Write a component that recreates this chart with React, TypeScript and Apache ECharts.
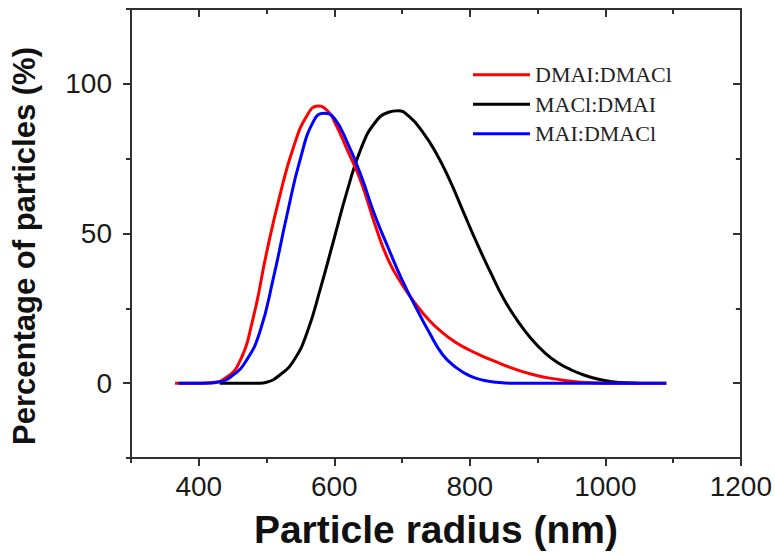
import React, { useEffect, useRef } from "react";
import * as echarts from "echarts";

const redName = "DMAI:DMACl";
const blackName = "MACl:DMAI";
const blueName = "MAI:DMACl";

const redData: [number, number][] = [
  [365, 0], [400, 0], [420, 0.2], [440, 1.8], [460, 7], [480, 21.5], [500, 43.5],
  [520, 63], [540, 79], [560, 89.5], [576, 92.6], [590, 91], [600, 87.5],
  [620, 77.5], [640, 67], [660, 53], [680, 41], [700, 33], [720, 26.5],
  [740, 21], [760, 16.8], [780, 13.5], [800, 11], [820, 8.9], [840, 7],
  [860, 5.2], [880, 3.7], [900, 2.5], [920, 1.6], [940, 0.9], [960, 0.4],
  [980, 0.1], [1000, 0], [1090, 0],
];

const blackData: [number, number][] = [
  [431, 0], [490, 0], [500, 0.3], [520, 2.8], [540, 7.5], [560, 17], [580, 32],
  [600, 48.5], [620, 65], [640, 78.7], [660, 87], [680, 90.5], [694, 91],
  [710, 89.2], [730, 84], [750, 77], [770, 68], [790, 57.5], [810, 47],
  [830, 37.3], [850, 28.2], [870, 21], [890, 15], [910, 10.3], [930, 6.8],
  [950, 4.4], [970, 2.6], [990, 1.3], [1010, 0.5], [1030, 0.1], [1050, 0],
];

const blueData: [number, number][] = [
  [370, 0], [410, 0], [430, 0.4], [450, 2.6], [470, 7.5], [490, 17], [510, 35],
  [530, 56], [550, 75], [570, 87.8], [585, 90.2], [600, 88.5], [620, 80],
  [640, 69], [660, 56], [680, 45], [700, 34.5], [720, 25.5], [740, 17],
  [760, 9.5], [780, 5.2], [800, 2.4], [820, 1], [840, 0.3], [860, 0], [1090, 0],
];

const xMajorLabels = [400, 600, 800, 1000, 1200];
const yMajorLabels = [0, 50, 100];

const axisColor = "#303030";
const sansFont = "'Liberation Sans', Arial, sans-serif";

export default function App() {
  const ref = useRef<HTMLDivElement>(null);
  useEffect(() => {
    if (!ref.current) return;
    const chart = echarts.init(ref.current, undefined, { renderer: "svg" });

    const W = 775;
    const H = 556;
    const L = 131;
    const R = 34;
    const T = 9;
    const B = 98;
    const xMin = 300;
    const xMax = 1200;
    const yMin = -25;
    const yMax = 125;
    const pxPerX = (W - L - R) / (xMax - xMin);
    const pxPerY = (H - T - B) / (yMax - yMin);

    const lineStyle = { color: axisColor, width: 2 };
    const hidden = { show: false };

    const option: any = {
      animation: false,
      backgroundColor: "#ffffff",
      grid: [
        { left: L, right: R, top: T, bottom: B },
        { left: L + (400 - xMin) * pxPerX, right: R, top: T, bottom: B },
        { left: L, right: R, top: T + (yMax - 100) * pxPerY, bottom: B + (0 - yMin) * pxPerY },
      ],
      legend: {
        orient: "vertical",
        left: 468,
        top: 55,
        itemWidth: 57,
        itemHeight: 3,
        itemGap: 0,
        icon: "path://M0,0 L57,0 L57,3 L0,3 Z",
        textStyle: {
          fontFamily: "'Liberation Serif', 'Times New Roman', serif",
          fontSize: 22,
          color: "#222",
          lineHeight: 29.5,
        },
        data: [redName, blackName, blueName],
      },
      xAxis: [
        {
          type: "value",
          gridIndex: 0,
          position: "bottom",
          min: xMin,
          max: xMax,
          interval: 100,
          splitLine: hidden,
          axisLine: { show: true, onZero: false, lineStyle },
          axisTick: { show: true, inside: false, length: 5, lineStyle },
          axisLabel: {
            formatter: (v: number) => (xMajorLabels.indexOf(v) >= 0 ? String(v) : ""),
            fontFamily: sansFont,
            fontSize: 28,
            color: "#1a1a1a",
            margin: 14,
          },
          name: "Particle radius (nm)",
          nameLocation: "middle",
          nameGap: 52,
          nameTextStyle: {
            fontFamily: sansFont,
            fontSize: 39,
            fontWeight: "bold",
            color: "#111",
          },
        },
        {
          type: "value",
          gridIndex: 0,
          position: "top",
          min: xMin,
          max: xMax,
          interval: 100,
          splitLine: hidden,
          axisLine: { show: true, onZero: false, lineStyle },
          axisTick: { show: true, inside: true, length: 5, lineStyle },
          axisLabel: hidden,
        },
        {
          type: "value",
          gridIndex: 1,
          position: "bottom",
          min: 400,
          max: xMax,
          interval: 200,
          splitLine: hidden,
          axisLine: { show: false, onZero: false },
          axisTick: { show: true, inside: false, length: 8, lineStyle },
          axisLabel: hidden,
        },
        {
          type: "value",
          gridIndex: 1,
          position: "top",
          min: 400,
          max: xMax,
          interval: 200,
          splitLine: hidden,
          axisLine: { show: false, onZero: false },
          axisTick: { show: true, inside: true, length: 8, lineStyle },
          axisLabel: hidden,
        },
        { type: "value", gridIndex: 2, show: false, min: xMin, max: xMax },
        { type: "value", gridIndex: 2, show: false, min: xMin, max: xMax, position: "top" },
      ],
      yAxis: [
        {
          type: "value",
          gridIndex: 0,
          position: "left",
          min: yMin,
          max: yMax,
          interval: 25,
          splitLine: hidden,
          axisLine: { show: true, onZero: false, lineStyle },
          axisTick: { show: true, inside: false, length: 5, lineStyle },
          axisLabel: {
            formatter: (v: number) => (yMajorLabels.indexOf(v) >= 0 ? String(v) : ""),
            fontFamily: sansFont,
            fontSize: 28,
            color: "#1a1a1a",
            margin: 19,
          },
          name: "Percentage of particles (%)",
          nameLocation: "middle",
          nameGap: 91,
          nameTextStyle: {
            fontFamily: sansFont,
            fontSize: 31,
            fontWeight: "bold",
            color: "#111",
            padding: [0, 25, 0, 0],
          },
        },
        {
          type: "value",
          gridIndex: 0,
          position: "right",
          min: yMin,
          max: yMax,
          interval: 25,
          splitLine: hidden,
          axisLine: { show: true, onZero: false, lineStyle },
          axisTick: { show: true, inside: true, length: 5, lineStyle },
          axisLabel: hidden,
        },
        { type: "value", gridIndex: 1, show: false, min: yMin, max: yMax },
        { type: "value", gridIndex: 1, show: false, min: yMin, max: yMax, position: "right" },
        {
          type: "value",
          gridIndex: 2,
          position: "left",
          min: 0,
          max: 100,
          interval: 50,
          splitLine: hidden,
          axisLine: { show: false, onZero: false },
          axisTick: { show: true, inside: false, length: 8, lineStyle },
          axisLabel: hidden,
        },
        {
          type: "value",
          gridIndex: 2,
          position: "right",
          min: 0,
          max: 100,
          interval: 50,
          splitLine: hidden,
          axisLine: { show: false, onZero: false },
          axisTick: { show: true, inside: true, length: 8, lineStyle },
          axisLabel: hidden,
        },
      ],
      series: [
        {
          name: redName,
          type: "line",
          xAxisIndex: 0,
          yAxisIndex: 0,
          data: redData,
          smooth: 0.5,
          symbol: "none",
          lineStyle: { color: "#ff0000", width: 3 },
          itemStyle: { color: "#ff0000" },
          z: 3,
        },
        {
          name: blackName,
          type: "line",
          xAxisIndex: 0,
          yAxisIndex: 0,
          data: blackData,
          smooth: 0.5,
          symbol: "none",
          lineStyle: { color: "#000000", width: 3 },
          itemStyle: { color: "#000000" },
          z: 2,
        },
        {
          name: blueName,
          type: "line",
          xAxisIndex: 0,
          yAxisIndex: 0,
          data: blueData,
          smooth: 0.5,
          symbol: "none",
          lineStyle: { color: "#0000ff", width: 3 },
          itemStyle: { color: "#0000ff" },
          z: 4,
        },
      ],
    };
    chart.setOption(option);
    return () => chart.dispose();
  }, []);
  return (
    <div
      ref={ref}
      style={{ position: "fixed", left: 0, top: 0, width: 775, height: 556, background: "#fff" }}
    />
  );
}
